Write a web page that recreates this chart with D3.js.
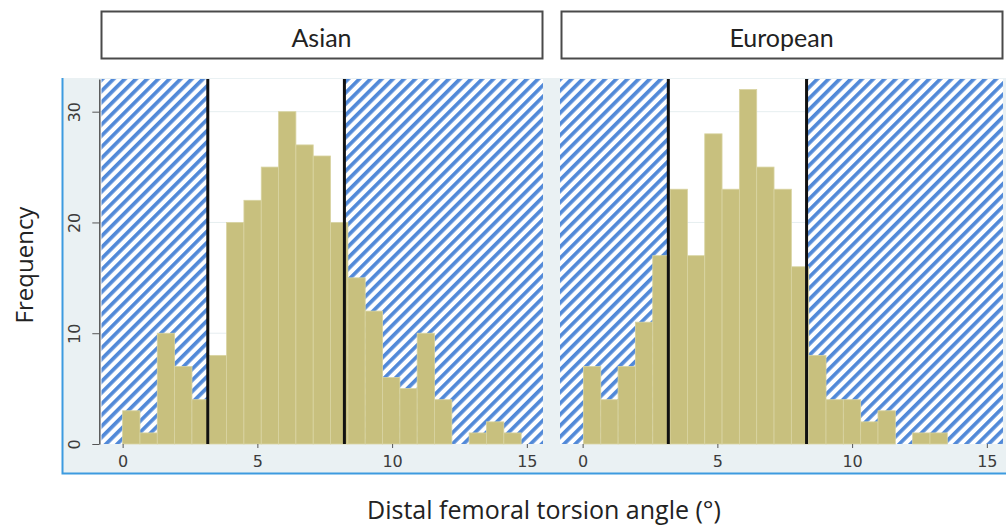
<!DOCTYPE html>
<html>
<head>
<meta charset="utf-8">
<script src="https://cdn.jsdelivr.net/npm/d3@7"></script>
<style>
  body { margin: 0; background: #fff; }
  svg { display: block; }
</style>
</head>
<body>
<svg id="chart" width="1006" height="528"></svg>
<script>
// 数据
const panelNames = ['Asian', 'European'];
const asianCounts = [3, 1, 10, 7, 4, 8, 20, 22, 25, 30, 27, 26, 20, 15, 12, 6, 5, 10, 4, 0, 1, 2, 1];
const europeanCounts = [7, 4, 7, 11, 17, 23, 17, 28, 23, 32, 25, 23, 16, 8, 4, 4, 2, 3, 0, 1, 1];
const binStarts = [0, 0.03];
const binWidth = 0.643;
const asianCutoffs = [3.16, 8.23];
const europeanCutoffs = [3.18, 8.31];
const xTicks = [0, 5, 10, 15];
const yTicks = [0, 10, 20, 30];

const counts = [asianCounts, europeanCounts];
const cutoffs = [asianCutoffs, europeanCutoffs];

const svg = d3.select('#chart');
const W = 1006, H = 528;

const plotTop = 79, plotBottom = 444;
const plotLefts = [100, 560];
const plotWidth = 443;
const xDomain = [-0.84, 15.6];

const barColor = '#c8c07e';
const hatchColor = '#5189d8';
const bgColor = '#eaf1f3';
const tickFont = '"DejaVu Sans", sans-serif';
const titleFont = '"Open Sans", Lato, sans-serif';

// 斜线填充
const defs = svg.append('defs');
const pat = defs.append('pattern')
  .attr('id', 'hatch')
  .attr('patternUnits', 'userSpaceOnUse')
  .attr('width', 7.9)
  .attr('height', 7.9)
  .attr('patternTransform', 'rotate(45)');
pat.append('rect').attr('width', 7.9).attr('height', 7.9).attr('fill', '#fff');
pat.append('rect').attr('width', 3.7).attr('height', 7.9).attr('fill', hatchColor);

// 外框背景
svg.append('rect')
  .attr('x', 62).attr('y', 78)
  .attr('width', W - 62).attr('height', 395)
  .attr('fill', bgColor);
svg.append('path')
  .attr('d', `M62.5,78V473.5H${W}`)
  .attr('fill', 'none')
  .attr('stroke', '#3d9be0')
  .attr('stroke-width', 2);

const y = d3.scaleLinear([0, 32.95], [plotBottom, plotTop]);

panelNames.forEach((name, i) => {
  const left = plotLefts[i];
  const x = d3.scaleLinear(xDomain, [left, left + plotWidth]);
  const g = svg.append('g').attr('class', 'panel');

  // 分面标题
  g.append('rect')
    .attr('x', left + 1.5).attr('y', 11.5)
    .attr('width', plotWidth - 2).attr('height', 47)
    .attr('fill', '#fff')
    .attr('stroke', '#4a4a4a')
    .attr('stroke-width', 2);
  g.append('text')
    .attr('x', left + plotWidth / 2)
    .attr('y', 47)
    .attr('text-anchor', 'middle')
    .attr('font-family', 'Lato, "Open Sans", sans-serif')
    .attr('font-size', 25)
    .attr('fill', '#222')
    .text(name);

  // 绘图区
  g.append('rect')
    .attr('x', left).attr('y', plotTop)
    .attr('width', plotWidth).attr('height', plotBottom - plotTop)
    .attr('fill', '#fff');

  g.selectAll('.grid')
    .data(yTicks.filter(d => d > 0))
    .join('line')
    .attr('class', 'grid')
    .attr('x1', left).attr('x2', left + plotWidth)
    .attr('y1', d => y(d)).attr('y2', d => y(d))
    .attr('stroke', '#e6eef0')
    .attr('stroke-width', 1);

  // 阴影区（阈值之外）
  const [c1, c2] = cutoffs[i];
  const zones = [[xDomain[0], c1], [c2, xDomain[1]]];
  const pad = d => (i === 0 && d[0] === xDomain[0] ? 1.5 : 0);
  g.selectAll('.zone')
    .data(zones)
    .join('rect')
    .attr('class', 'zone')
    .attr('x', d => x(d[0]) + pad(d))
    .attr('y', plotTop)
    .attr('width', d => x(d[1]) - x(d[0]) - pad(d))
    .attr('height', plotBottom - plotTop)
    .attr('fill', 'url(#hatch)');

  // 直方图
  const bins = counts[i].map((c, k) => ({
    x0: binStarts[i] + k * binWidth,
    x1: binStarts[i] + (k + 1) * binWidth,
    n: c
  })).filter(d => d.n > 0);

  g.selectAll('.bar')
    .data(bins)
    .join('rect')
    .attr('class', 'bar')
    .attr('x', d => x(d.x0))
    .attr('y', d => y(d.n))
    .attr('width', d => x(d.x1) - x(d.x0))
    .attr('height', d => y(0) - y(d.n))
    .attr('fill', barColor)
    .attr('stroke', '#d9d4a2')
    .attr('stroke-width', 0.8);

  // 阈值线
  g.selectAll('.cut')
    .data(cutoffs[i])
    .join('line')
    .attr('class', 'cut')
    .attr('x1', d => x(d)).attr('x2', d => x(d))
    .attr('y1', plotTop).attr('y2', plotBottom)
    .attr('stroke', '#111')
    .attr('stroke-width', 3);

  // x 轴
  const xAxis = g.append('g')
    .attr('transform', `translate(0,${plotBottom})`)
    .call(d3.axisBottom(x).tickValues(xTicks).tickSize(4).tickSizeOuter(0));
  xAxis.select('.domain').remove();
  xAxis.selectAll('.tick line').attr('stroke', '#555');
  xAxis.selectAll('.tick text')
    .attr('y', 18).attr('dy', null)
    .attr('dominant-baseline', 'middle')
    .attr('font-family', tickFont)
    .attr('font-size', 16)
    .attr('fill', '#3c3c3c');

  // y 轴（只在左侧面板）
  if (i === 0) {
    const yAxis = g.append('g')
      .attr('transform', `translate(${left - 0.7},0)`)
      .call(d3.axisLeft(y).tickValues(yTicks).tickSize(7).tickSizeOuter(0));
    yAxis.select('.domain').attr('stroke', '#555').attr('stroke-width', 1.5);
    yAxis.selectAll('.tick line').attr('stroke', '#555');
    yAxis.selectAll('.tick text')
      .attr('x', null).attr('dy', null)
      .attr('transform', 'translate(-24,0) rotate(-90)')
      .attr('text-anchor', 'middle')
      .attr('dominant-baseline', 'middle')
      .attr('font-family', tickFont)
      .attr('font-size', 16)
      .attr('fill', '#3c3c3c');
  }
});

// 轴标题
svg.append('text')
  .attr('transform', 'translate(33,265) rotate(-90)')
  .attr('text-anchor', 'middle')
  .attr('font-family', titleFont)
  .attr('font-size', 24)
  .attr('fill', '#222')
  .text('Frequency');

svg.append('text')
  .attr('x', 544)
  .attr('y', 519)
  .attr('text-anchor', 'middle')
  .attr('font-family', titleFont)
  .attr('font-size', 25)
  .attr('fill', '#222')
  .text('Distal femoral torsion angle (°)');
</script>
</body>
</html>
